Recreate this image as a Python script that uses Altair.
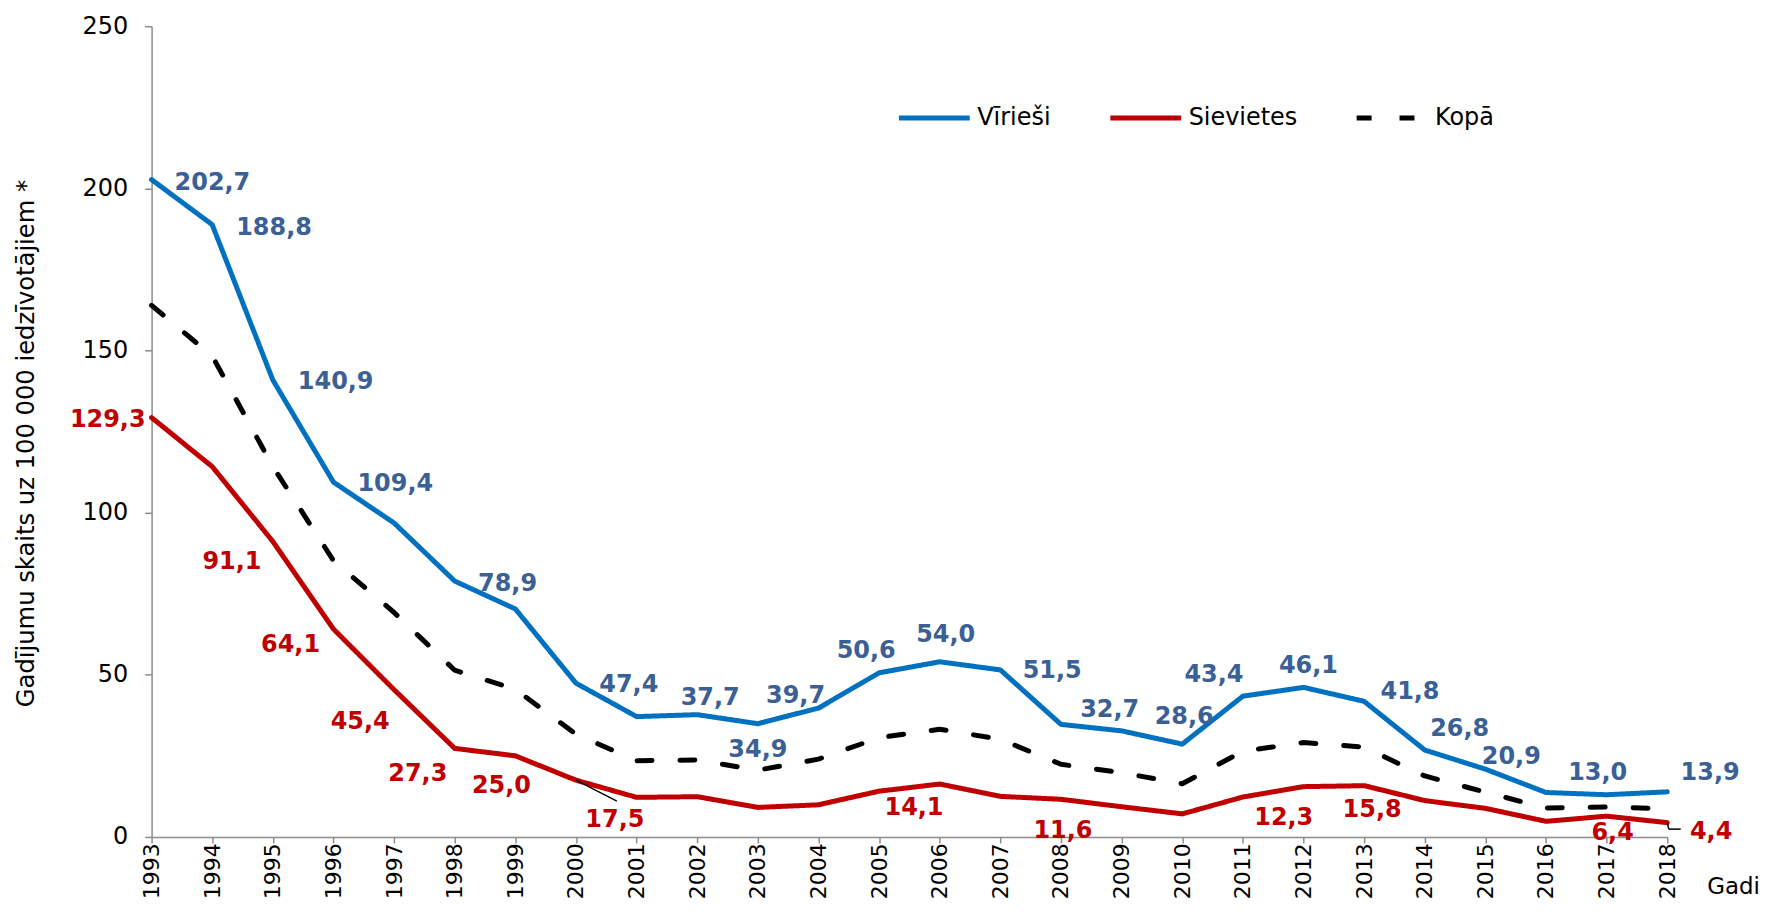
import altair as alt
import pandas as pd

# ---------------- data ----------------
years = [1993, 1994, 1995, 1996, 1997, 1998, 1999, 2000, 2001, 2002, 2003, 2004, 2005,
         2006, 2007, 2008, 2009, 2010, 2011, 2012, 2013, 2014, 2015, 2016, 2017, 2018]

virieshi = [202.7, 188.8, 140.9, 109.4, 96.8, 78.9, 70.3, 47.4, 37.1, 37.7, 34.9, 39.7, 50.6,
            54.0, 51.5, 34.7, 32.7, 28.6, 43.4, 46.1, 41.8, 26.8, 20.9, 13.7, 13.0, 13.9]

sievietes = [129.3, 114.2, 91.1, 64.1, 45.4, 27.3, 25.0, 17.5, 12.2, 12.4, 9.1, 9.9, 14.1,
             16.3, 12.5, 11.6, 9.3, 7.1, 12.3, 15.5, 15.8, 11.2, 8.8, 4.8, 6.4, 4.4]

kopa = [163.9, 148.3, 114.2, 85.2, 69.2, 51.4, 45.5, 31.7, 23.5, 23.7, 20.6, 24.0, 30.6,
        33.2, 30.1, 22.4, 19.8, 16.4, 26.4, 29.1, 27.7, 18.8, 13.8, 8.9, 9.2, 8.7]

series_names = ["Vīrieši", "Sievietes", "Kopā"]

# years that carry a data label
male_label_years = [1993, 1994, 1995, 1996, 1998, 2000, 2002, 2003, 2004, 2005, 2006, 2007,
                    2009, 2010, 2011, 2012, 2013, 2014, 2015, 2017, 2018]
female_label_years = [1993, 1995, 1996, 1997, 1998, 1999, 2000, 2005, 2008, 2011, 2013, 2017, 2018]

# ---------------- styles / placement (pixels) ----------------
line_colors = ["#0070C0", "#C00000", "#000000"]
label_colors = {"Vīrieši": "#3A6095", "Sievietes": "#C00000"}
male_label_offsets = [(61, 3), (62, 3), (63, 2), (62, 2), (53, 3), (53, 2), (13, -17), (0, 26),
                      (-23, -12), (-13, -22), (6, -27), (52, 1), (-12, -21), (2, -27), (-29, -21),
                      (5, -21), (46, -9), (35, -21), (26, -12), (-9, -22), (43, -19)]
female_label_offsets = [(-44, 2), (-41, 21), (-43, 16), (-34, 32), (-37, 26), (-14, 30), (39, 40),
                        (35, 17), (2, 32), (41, 21), (8, 24), (6, 17), (44, 9)]

FONT = "DejaVu Sans"

# ---------------- tables ----------------
rows = []
for name, vals in zip(series_names, [virieshi, sievietes, kopa]):
    for yr, v in zip(years, vals):
        rows.append({"year": yr, "value": v, "series": name})
df = pd.DataFrame(rows)

x_enc = alt.X("year:O",
              scale=alt.Scale(type="point", padding=0, domain=years),
              axis=alt.Axis(title="Gadi", labelAngle=270, labelFontSize=22, tickSize=6,
                            labelPadding=0, titleFontSize=23, titleFontWeight="normal",
                            titleX=1586, titleY=50, titleAngle=0, titleAlign="center",
                            titleBaseline="middle"))
y_enc = alt.Y("value:Q",
              scale=alt.Scale(domain=[0, 250], nice=False, zero=True),
              axis=alt.Axis(title="Gadījumu skaits uz 100 000 iedzīvotājiem *",
                            values=[0, 50, 100, 150, 200, 250], labelFontSize=24,
                            tickSize=7, labelPadding=17, titleFontSize=24.3,
                            titleFontWeight="normal", titleX=-125, titleY=418,
                            titleAlign="center", titleBaseline="middle", titleAngle=270))

legend = alt.Legend(title=None, orient="none", legendX=747, legendY=54, direction="horizontal",
                    symbolType="stroke", symbolSize=5041, symbolStrokeWidth=5,
                    labelFontSize=24, labelFont=FONT, labelColor="black", columnPadding=49,
                    labelOffset=5, padding=0)

lines = alt.Chart(df).mark_line(strokeWidth=5, strokeCap="round", strokeJoin="round").encode(
    x=x_enc,
    y=y_enc,
    color=alt.Color("series:N", scale=alt.Scale(domain=series_names, range=line_colors),
                    legend=legend, sort=series_names),
    strokeDash=alt.StrokeDash("series:N",
                              scale=alt.Scale(domain=series_names,
                                              range=[[1, 0], [1, 0], [15, 28]]),
                              legend=legend, sort=series_names),
    order=alt.Order("year:O"),
)

layers = [lines]


def fmt(v):
    return f"{v:.1f}".replace(".", ",")


for name, vals, lyears, offs in [
    ("Vīrieši", virieshi, male_label_years, male_label_offsets),
    ("Sievietes", sievietes, female_label_years, female_label_offsets),
]:
    for yr, (dx, dy) in zip(lyears, offs):
        v = vals[years.index(yr)]
        one = pd.DataFrame([{"year": yr, "value": v, "label": fmt(v)}])
        layers.append(
            alt.Chart(one).mark_text(font=FONT, fontSize=24, fontWeight="bold",
                                     color=label_colors[name], align="center",
                                     baseline="middle", dx=dx, dy=dy).encode(
                x=x_enc, y=y_enc, text="label:N")
        )

# leader lines for two labels
lead1 = pd.DataFrame([{"year": 2000, "value": sievietes[years.index(2000)]}])
layers.append(
    alt.Chart(lead1).mark_rule(color="black", strokeWidth=1.5, x2Offset=41, y2Offset=21).encode(
        x=x_enc, y=y_enc, x2="year:O", y2="value:Q")
)
lead2 = pd.DataFrame([{"year": 2018, "value": sievietes[years.index(2018)]}])
layers.append(
    alt.Chart(lead2).mark_rule(color="black", strokeWidth=1.5, x2Offset=1.5, y2Offset=6.5).encode(
        x=x_enc, y=y_enc, x2="year:O", y2="value:Q")
)
layers.append(
    alt.Chart(lead2).mark_rule(color="black", strokeWidth=1.5, xOffset=1.5, yOffset=6.5,
                               x2Offset=13.5, y2Offset=6.5).encode(
        x=x_enc, y=y_enc, x2="year:O", y2="value:Q")
)

chart = alt.layer(*layers).properties(
    width=1520,
    height=813,
    padding={"left": 144, "top": 17, "right": 92, "bottom": 63},
    autosize=alt.AutoSizeParams(type="none"),
    background="white",
).configure_view(stroke=None).configure_axis(
    grid=False,
    labelFont=FONT,
    titleFont=FONT,
    labelColor="black",
    titleColor="black",
    domainColor="#8c8c8c",
    tickColor="#8c8c8c",
    domainWidth=1.5,
    tickWidth=1.5,
)

chart.save("out.html", embed_options={"renderer": "svg", "actions": False})
